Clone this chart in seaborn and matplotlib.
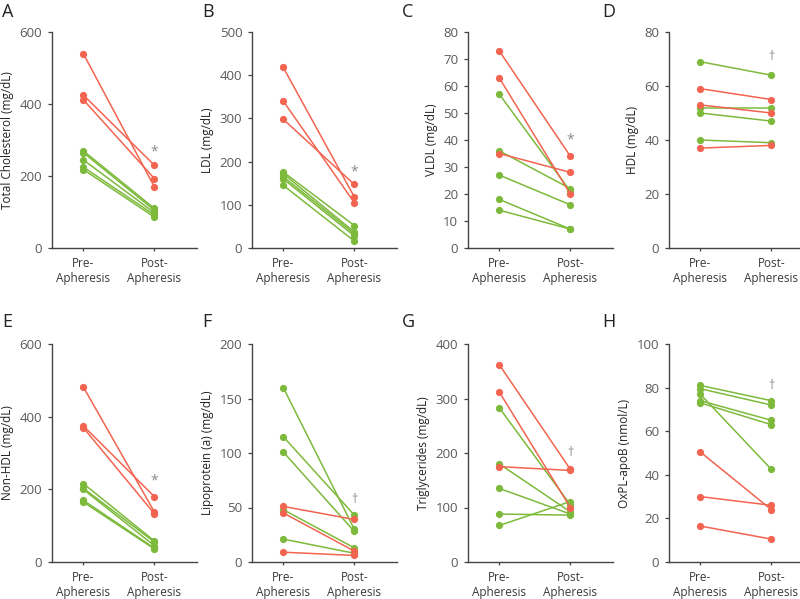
import numpy as np
import pandas as pd
import seaborn as sns
import matplotlib.pyplot as plt

sns.set_theme(style="ticks")
plt.rcParams["font.family"] = ["Open Sans", "DejaVu Sans"]

RED = "#F26450"
GREEN = "#7DBA3C"

timepoints = ["Pre-\nApheresis", "Post-\nApheresis"]

# each panel: red pre/post, green pre/post
tc_red_pre = [540, 425, 412]
tc_red_post = [170, 230, 193]
tc_green_pre = [270, 265, 245, 225, 218]
tc_green_post = [110, 105, 98, 92, 86]

ldl_red_pre = [418, 340, 298]
ldl_red_post = [118, 105, 147]
ldl_green_pre = [176, 172, 165, 160, 145]
ldl_green_post = [52, 37, 33, 28, 16]

vldl_red_pre = [73, 63, 35]
vldl_red_post = [34, 20, 28]
vldl_green_pre = [57, 36, 27, 18, 14]
vldl_green_post = [21, 22, 16, 7, 7]

hdl_red_pre = [59, 53, 37]
hdl_red_post = [55, 50, 38]
hdl_green_pre = [69, 52, 50, 40]
hdl_green_post = [64, 52, 47, 39]

nonhdl_red_pre = [482, 375, 370]
nonhdl_red_post = [138, 180, 133]
nonhdl_green_pre = [216, 203, 200, 170, 165]
nonhdl_green_post = [58, 55, 45, 38, 36]

lpa_red_pre = [51, 45, 9]
lpa_red_post = [39, 10, 6]
lpa_green_pre = [160, 115, 101, 48, 21]
lpa_green_post = [30, 43, 28, 13, 8]

tg_red_pre = [362, 312, 175]
tg_red_post = [170, 100, 168]
tg_green_pre = [283, 180, 135, 88, 67]
tg_green_post = [105, 92, 88, 86, 111]

oxpl_red_pre = [50.5, 30, 16.5]
oxpl_red_post = [24, 26, 10.5]
oxpl_green_pre = [81, 79.5, 77, 74, 73]
oxpl_green_post = [74, 72, 42.5, 65, 63]

panels = [
    ("A", "Total Cholesterol (mg/dL)", 600, 200, "*", 268,
     tc_red_pre, tc_red_post, tc_green_pre, tc_green_post),
    ("B", "LDL (mg/dL)", 500, 100, "*", 175,
     ldl_red_pre, ldl_red_post, ldl_green_pre, ldl_green_post),
    ("C", "VLDL (mg/dL)", 80, 10, "*", 40,
     vldl_red_pre, vldl_red_post, vldl_green_pre, vldl_green_post),
    ("D", "HDL (mg/dL)", 80, 20, "\u2020", 71,
     hdl_red_pre, hdl_red_post, hdl_green_pre, hdl_green_post),
    ("E", "Non-HDL (mg/dL)", 600, 200, "*", 222,
     nonhdl_red_pre, nonhdl_red_post, nonhdl_green_pre, nonhdl_green_post),
    ("F", "Lipoprotein (a) (mg/dL)", 200, 50, "\u2020", 57,
     lpa_red_pre, lpa_red_post, lpa_green_pre, lpa_green_post),
    ("G", "Triglycerides (mg/dL)", 400, 100, "\u2020", 200,
     tg_red_pre, tg_red_post, tg_green_pre, tg_green_post),
    ("H", "OxPL-apoB (nmol/L)", 100, 20, "\u2020", 81,
     oxpl_red_pre, oxpl_red_post, oxpl_green_pre, oxpl_green_post),
]


def to_long(red_pre, red_post, green_pre, green_post):
    rows = []
    for grp, pre, post in (("green", green_pre, green_post), ("red", red_pre, red_post)):
        for i, (a, b) in enumerate(zip(pre, post)):
            rows.append((f"{grp}{i}", grp, timepoints[0], a))
            rows.append((f"{grp}{i}", grp, timepoints[1], b))
    return pd.DataFrame(rows, columns=["patient", "group", "time", "value"])


fig = plt.figure(figsize=(8, 5.99), dpi=100)

# axes positions in pixels (left x, top/bottom y measured from the top)
col_x = [52, 252, 468, 669]
row_top = [32, 344]
row_bot = [248, 562]
letter_y = [12, 322]

for k, (letter, ylabel, ymax, ystep, mark, mark_y, rp, rq, gp, gq) in enumerate(panels):
    r, c = divmod(k, 4)
    left = col_x[c] / 800
    bottom = 1 - row_bot[r] / 599
    height = (row_bot[r] - row_top[r]) / 599
    ax = fig.add_axes([left, bottom, 145 / 800, height])

    df = to_long(rp, rq, gp, gq)
    sns.lineplot(
        data=df, x="time", y="value", hue="group", units="patient",
        estimator=None, palette={"red": RED, "green": GREEN},
        marker="o", markersize=5.2, markeredgewidth=0, linewidth=1.1,
        legend=False, ax=ax
    )

    ax.set_xlim(-0.44, 1.6)
    ax.set_ylim(0, ymax)
    ax.set_yticks(np.arange(0, ymax + 1, ystep))
    ax.set_xticks([0, 1])
    ax.set_xticklabels(timepoints, fontsize=8.5, color="#3a3a3a", linespacing=1.2)
    ax.tick_params(axis="y", labelsize=9.5, labelcolor="#5a5a5a", length=3,
                   width=0.9, color="#444444", pad=4)
    ax.tick_params(axis="x", length=2.5, width=0.9, color="#444444", pad=4)
    ax.set_xlabel("")
    ax.set_ylabel(ylabel, fontsize=8.5, color="#222222", labelpad=4)
    for s in ("left", "bottom"):
        ax.spines[s].set_color("#444444")
        ax.spines[s].set_linewidth(1.0)
    sns.despine(ax=ax)

    ax.text(1, mark_y, mark, ha="center", va="center",
            fontsize=10 if mark == "*" else 9, color="#8a8a8a")

    fig.text((2 + c * 200) / 800, 1 - letter_y[r] / 599, letter, fontsize=13,
             color="#222222", ha="left", va="center")

plt.savefig("out.png", dpi=100)
